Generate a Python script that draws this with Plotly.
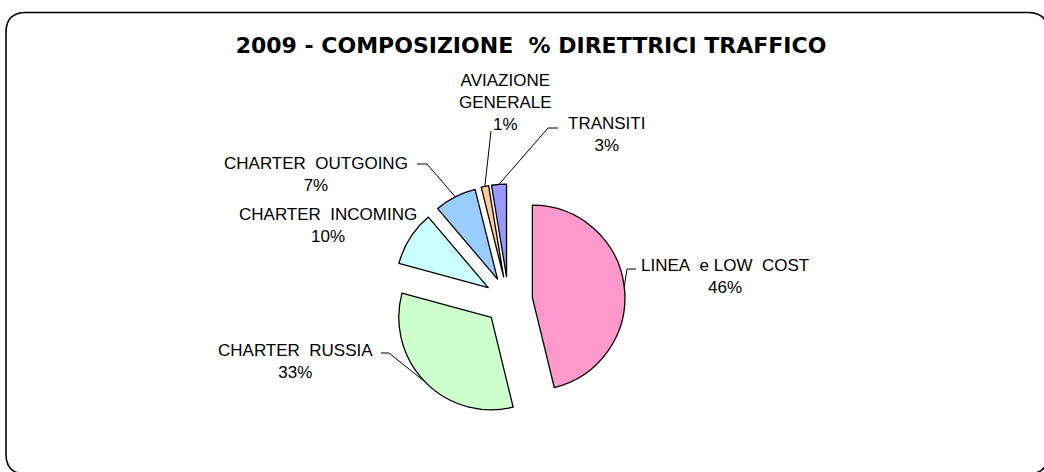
import math
import plotly.graph_objects as go

# ---------------- data ----------------
categories = ["LINEA e LOW COST", "CHARTER RUSSIA", "CHARTER INCOMING",
              "CHARTER OUTGOING", "AVIAZIONE GENERALE", "TRANSITI"]
label_text = ["LINEA\u00a0\u00a0e LOW\u00a0\u00a0COST", "CHARTER\u00a0\u00a0RUSSIA",
              "CHARTER\u00a0\u00a0INCOMING", "CHARTER\u00a0\u00a0OUTGOING",
              "AVIAZIONE<br>GENERALE", "TRANSITI"]
values = [46.2, 33.0, 9.6, 7.3, 1.3, 2.6]
colors = ["#FF99CC", "#CCFFCC", "#CCFFFF", "#99CCFF", "#FFCC99", "#9999FF"]
title_text = "2009 - COMPOSIZIONE\u00a0\u00a0% DIRETTRICI TRAFFICO"

# ---------------- layout constants (pixels) ----------------
W, H = 1044, 472
CX, CY = 508.5, 300.5     # pie centre
R = 92.5                  # pie radius
PULL = 0.26

# label centres and leader start/elbow points (pixels); None = no leader
label_layout = [
    dict(c=(725, 276.5), lead=[(636, 269), (627, 269)]),
    dict(c=(295, 361), lead=[(381, 353), (389, 353)]),
    dict(c=(328, 225.5), lead=None),
    dict(c=(316, 174), lead=[(417, 164), (427, 164)]),
    dict(c=(505, 103), lead=[(491, 131)]),
    dict(c=(606, 134), lead=[(558, 128), (548, 128)]),
]

def fx(px):
    return px / W

def fy(py):
    return 1 - py / H

half = R * (1 + PULL)
domain = dict(x=[fx(CX) - 0.15, fx(CX) + 0.15],
              y=[fy(CY + half), fy(CY - half)])

fig = go.Figure(go.Pie(
    labels=categories, values=values, sort=False,
    direction="clockwise", rotation=0,
    marker=dict(colors=colors, line=dict(color="black", width=1.3)),
    pull=PULL, textinfo="none", hoverinfo="label+percent",
    domain=domain, showlegend=False,
))

total = sum(values)
shapes = []
annotations = []
cum = 0.0
for name, txt, v, lay in zip(categories, label_text, values, label_layout):
    mid = (cum + v / 2) / total * 2 * math.pi
    cum += v
    ax_ = CX + R * (1 + PULL) * math.sin(mid)
    ay_ = CY - R * (1 + PULL) * math.cos(mid)
    pct = f"{round(v / total * 100)}%"
    annotations.append(dict(
        x=fx(lay["c"][0]), y=fy(lay["c"][1]), xref="paper", yref="paper",
        text=f"{txt}<br>{pct}", showarrow=False, xanchor="center", yanchor="middle",
        align="center",
        font=dict(family="Liberation Sans, Arial, sans-serif", size=17, color="black"),
    ))
    if lay["lead"]:
        pts = lay["lead"] + [(ax_, ay_)]
        path = "M " + " L ".join(f"{fx(p[0])},{fy(p[1])}" for p in pts)
        shapes.append(dict(type="path", xref="paper", yref="paper", path=path,
                           line=dict(color="black", width=1)))

# rounded outer frame
L_, T_, R_, B_, rad = 6, 12.5, 1048, 474, 20
def P(x, y):
    return f"{fx(x)},{fy(y)}"
frame = (f"M {P(L_+rad, T_)} L {P(R_-rad, T_)} Q {P(R_, T_)} {P(R_, T_+rad)} "
         f"L {P(R_, B_-rad)} Q {P(R_, B_)} {P(R_-rad, B_)} L {P(L_+rad, B_)} "
         f"Q {P(L_, B_)} {P(L_, B_-rad)} L {P(L_, T_+rad)} Q {P(L_, T_)} {P(L_+rad, T_)} Z")
shapes.append(dict(type="path", xref="paper", yref="paper", path=frame,
                   line=dict(color="black", width=1.6)))

fig.update_layout(
    width=W, height=H, autosize=False,
    margin=dict(l=0, r=0, t=0, b=0),
    paper_bgcolor="white", plot_bgcolor="white",
    title=dict(text=f"<b>{title_text}</b>", x=fx(531), y=fy(45),
               xanchor="center", yanchor="middle", xref="paper", yref="paper",
               font=dict(family="DejaVu Sans, Verdana, sans-serif", size=22, color="black")),
    shapes=shapes, annotations=annotations,
)

fig.write_html("out.html",
               config={"displayModeBar": False},
               post_script="document.body.style.margin='0px';document.body.style.overflow='hidden';")
